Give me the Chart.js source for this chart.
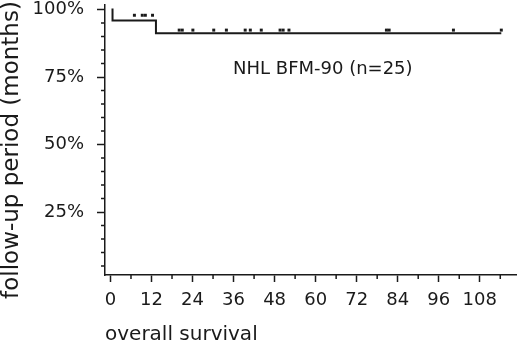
<!DOCTYPE html>
<html>
<head>
<meta charset="utf-8">
<script src="https://cdn.jsdelivr.net/npm/chart.js@4.4.1/dist/chart.umd.min.js"></script>
<style>
html,body{margin:0;padding:0;background:#fff;}
#wrap{width:520px;height:342px;position:relative;}
</style>
</head>
<body>
<div id="wrap"><canvas id="c" width="520" height="342"></canvas></div>
<script>
// Kaplan-Meier step curve (months, survival %)
const curveMonths = [0.3, 0.6, 13.3, 114.3];
const curveSurvival = [100, 96, 91.2, 91.2];
// censored observations (months) and the height of the marks (%)
const censorMonthsA = [7.0, 9.3, 10.2, 12.3];
const censorSurvA = [97.9, 97.9, 97.9, 97.9];
const censorMonthsB = [20.1, 21.0, 24.1, 30.2, 33.9, 39.4, 40.9, 44.1, 49.6, 50.5, 52.2, 80.7, 81.5, 100.3, 114.3];
const censorSurvB = [92.4, 92.4, 92.4, 92.4, 92.4, 92.4, 92.4, 92.4, 92.4, 92.4, 92.4, 92.4, 92.4, 92.4, 92.4];
// tick labels
const xTickValues = [0, 12, 24, 36, 48, 60, 72, 84, 96, 108];
const yTickValues = [25, 50, 75, 100];
const xMinorTicks = [6, 18, 30, 42, 54, 66, 78, 90, 102, 114];
const yMinorTicks = [5, 10, 15, 20, 30, 35, 40, 45, 55, 60, 65, 70, 80, 85, 90, 95];
const seriesLabel = 'NHL BFM-90 (n=25)';
const yTitle = 'follow-up period (months)';
const xTitle = 'overall survival';

const FONT = "'DejaVu Sans', sans-serif";
const INK = '#1a1a1a';

const extras = {
  id: 'extras',
  afterDraw(chart) {
    const ctx = chart.ctx, x = chart.scales.x, y = chart.scales.y;
    ctx.save();
    ctx.strokeStyle = INK;
    ctx.lineWidth = 1.5;
    ctx.beginPath();
    xMinorTicks.forEach(v => {
      const px = x.getPixelForValue(v);
      ctx.moveTo(px, x.top); ctx.lineTo(px, x.top + 4);
    });
    yMinorTicks.forEach(v => {
      const py = y.getPixelForValue(v);
      ctx.moveTo(y.right, py); ctx.lineTo(y.right - 4, py);
    });
    ctx.stroke();
    ctx.fillStyle = INK;
    // series label
    ctx.font = "18px " + FONT;
    ctx.textAlign = 'center';
    ctx.textBaseline = 'alphabetic';
    ctx.fillText(seriesLabel, x.getPixelForValue(62.1), y.getPixelForValue(76.2));
    // y axis title
    ctx.translate(18, 150);
    ctx.rotate(-Math.PI / 2);
    ctx.font = "23px " + FONT;
    ctx.textAlign = 'center';
    ctx.textBaseline = 'alphabetic';
    ctx.fillText(yTitle, 0, 0);
    ctx.restore();
  }
};

new Chart(document.getElementById('c'), {
  type: 'scatter',
  data: {
    datasets: [
      {
        type: 'line',
        data: curveMonths.map((m, i) => ({x: m, y: curveSurvival[i]})),
        stepped: true,
        borderColor: INK,
        borderWidth: 2,
        pointRadius: 0,
        fill: false
      },
      {
        data: censorMonthsA.map((m, i) => ({x: m, y: censorSurvA[i]})),
        pointStyle: 'rect',
        pointRadius: 2.1,
        backgroundColor: INK,
        borderColor: INK,
        borderWidth: 0
      },
      {
        data: censorMonthsB.map((m, i) => ({x: m, y: censorSurvB[i]})),
        pointStyle: 'rect',
        pointRadius: 2.1,
        backgroundColor: INK,
        borderColor: INK,
        borderWidth: 0
      }
    ]
  },
  options: {
    responsive: false,
    animation: false,
    layout: {padding: {top: 5, right: 0, left: 0, bottom: 0}},
    plugins: {legend: {display: false}, tooltip: {enabled: false}},
    scales: {
      x: {
        type: 'linear',
        min: -1.6, max: 118.6,
        afterFit: s => { s.height = 67; s.paddingLeft = 0; s.paddingRight = 0; },
        afterBuildTicks: s => { s.ticks = xTickValues.map(v => ({value: v})); },
        grid: {drawOnChartArea: false, tickLength: 7, tickColor: INK, tickWidth: 1.5},
        border: {color: INK, width: 1.5},
        ticks: {color: INK, font: {family: FONT, size: 18}, padding: 8, maxRotation: 0, autoSkip: false},
        title: {display: true, text: xTitle, align: 'start', color: INK,
                font: {family: FONT, size: 20, lineHeight: 0.75}, padding: {top: 0, bottom: 0}}
      },
      y: {
        type: 'linear',
        min: 1.7, max: 101.7,
        afterFit: s => { s.width = 105; s.paddingTop = 0; s.paddingBottom = 0; },
        afterBuildTicks: s => { s.ticks = yTickValues.map(v => ({value: v})); },
        grid: {drawOnChartArea: false, tickLength: 8, tickColor: INK, tickWidth: 1.5},
        border: {color: INK, width: 1.5},
        ticks: {color: INK, font: {family: FONT, size: 18}, padding: 13, callback: v => v + '%'},
        title: {display: false}
      }
    }
  },
  plugins: [extras]
});
</script>
</body>
</html>
